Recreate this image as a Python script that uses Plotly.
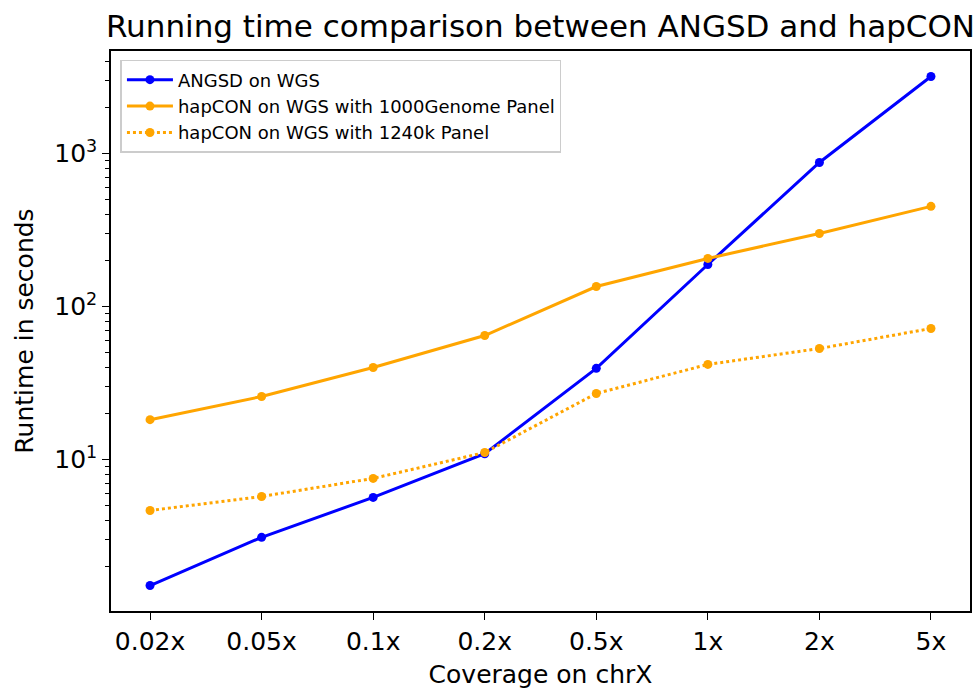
import plotly.graph_objects as go
import math

categories = ["0.02x", "0.05x", "0.1x", "0.2x", "0.5x", "1x", "2x", "5x"]
angsd_wgs = [1.5, 3.1, 5.65, 10.9, 39.4, 188, 873, 3186]
hapcon_1000g = [18.2, 25.8, 39.9, 64.6, 135, 206, 300, 451]
hapcon_1240k = [4.64, 5.73, 7.52, 11.1, 27.0, 41.8, 53.1, 71.8]
series_names = ["ANGSD on WGS", "hapCON on WGS with 1000Genome Panel", "hapCON on WGS with 1240k Panel"]
y_major = [10, 100, 1000]
y_major_text = ["10<sup>1</sup>", "10<sup>2</sup>", "10<sup>3</sup>"]

BLUE = "#0000ff"
ORANGE = "#ffa500"
FONT = "DejaVu Sans"

fig = go.Figure()
fig.add_trace(go.Scatter(x=categories, y=angsd_wgs, name=series_names[0], mode="lines+markers",
                         line=dict(color=BLUE, width=3), marker=dict(color=BLUE, size=9)))
fig.add_trace(go.Scatter(x=categories, y=hapcon_1000g, name=series_names[1], mode="lines+markers",
                         line=dict(color=ORANGE, width=3), marker=dict(color=ORANGE, size=9)))
fig.add_trace(go.Scatter(x=categories, y=hapcon_1240k, name=series_names[2], mode="lines+markers",
                         line=dict(color=ORANGE, width=3, dash="dot"), marker=dict(color=ORANGE, size=9)))

allv = angsd_wgs + hapcon_1000g + hapcon_1240k
lo, hi = math.log10(min(allv)), math.log10(max(allv))
span = hi - lo
yrange = [lo - 0.05 * span, hi + 0.05 * span]
minor_vals = [m * 10 ** d for d in range(0, 4) for m in range(2, 10)
              if yrange[0] <= math.log10(m * 10 ** d) <= yrange[1]]
n = len(categories)

fig.update_layout(
    width=976, height=689,
    margin=dict(l=111, r=4, t=51, b=78),
    paper_bgcolor="white", plot_bgcolor="white",
    font=dict(family=FONT, color="black", size=25),
    title=dict(text="Running time comparison between ANGSD and hapCON", x=0.5, xref="paper",
               xanchor="center", y=1 - 26 / 689, yref="container", yanchor="middle",
               font=dict(size=31, family=FONT, color="black")),
    showlegend=True,
    legend=dict(x=0.011, y=0.984, xanchor="left", yanchor="top",
                bgcolor="rgba(255,255,255,0.8)", bordercolor="#cccccc", borderwidth=1.5,
                font=dict(size=18, family=FONT), tracegroupgap=0, itemwidth=46),
    xaxis=dict(type="category", range=[-0.35, n - 1 + 0.35], showgrid=False, zeroline=False,
               showline=True, linecolor="black", linewidth=1.5, mirror=True,
               ticks="outside", ticklen=7, tickwidth=1.2, tickcolor="black",
               tickfont=dict(size=25), title=dict(text="Coverage on chrX", font=dict(size=25), standoff=12)),
    yaxis=dict(type="log", range=yrange, showgrid=False, zeroline=False,
               showline=True, linecolor="black", linewidth=1.5, mirror=True,
               tickmode="array", tickvals=y_major, ticktext=y_major_text,
               ticks="outside", ticklen=7, tickwidth=1.2, tickcolor="black",
               tickfont=dict(size=25),
               minor=dict(tickmode="array", tickvals=minor_vals, ticks="outside", ticklen=4,
                          tickwidth=1, tickcolor="black", showgrid=False),
               title=dict(text="Runtime in seconds", font=dict(size=25), standoff=14)),
)

fig.write_html("out.html")
